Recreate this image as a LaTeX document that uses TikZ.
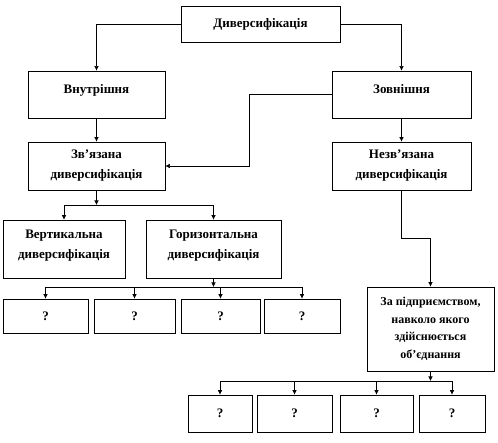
\documentclass[tikz,border=0pt]{standalone}
\usepackage{fontspec}
\setmainfont{Liberation Serif}
\usetikzlibrary{arrows.meta}

\begin{document}
\begin{tikzpicture}[x=1pt,y=-1pt,font=\bfseries\fontsize{13}{20}\selectfont,
  box/.style={draw,line width=0.6pt,align=center,inner sep=2pt},
  w/.style={-{Latex[length=1.6mm,width=1.6mm]},line width=0.6pt}]
  \useasboundingbox (0,0) rectangle (498,442);
  \node[box,minimum width=159pt,minimum height=36pt] (dyv) at (260.5,24) {Диверсифікація};
  \node[box,minimum width=137pt,minimum height=47pt] (vn) at (96.5,94.5) {Внутрішня\\[-8pt]};
  \node[box,minimum width=139pt,minimum height=47pt] (zo) at (401.5,94.5) {Зовнішня\\[-8pt]};
  \node[box,minimum width=137pt,minimum height=48pt] (zv) at (96.5,166) {Зв’язана\\диверсифікація};
  \node[box,minimum width=139pt,minimum height=48pt] (nzv) at (401.5,166) {Незв’язана\\диверсифікація};
  \node[box,minimum width=122pt,minimum height=58pt] (vert) at (64,249) {Вертикальна\\диверсифікація\\[-10pt]};
  \node[box,minimum width=135pt,minimum height=58pt] (hor) at (213.5,249) {Горизонтальна\\диверсифікація\\[-10pt]};
  \node[box,minimum width=85pt,minimum height=34pt] (q1) at (45.5,316) {?};
  \node[box,minimum width=81pt,minimum height=34pt] (q2) at (134.5,316) {?};
  \node[box,minimum width=79pt,minimum height=34pt] (q3) at (220.5,316) {?};
  \node[box,minimum width=76pt,minimum height=34pt] (q4) at (302,316) {?};
  \node[box,minimum width=127pt,minimum height=84pt,
        font=\bfseries\fontsize{12}{17.5}\selectfont] (fin) at (430.5,329)
       {За підприємством,\\навколо якого\\здійснюється\\об’єднання};
  \node[box,minimum width=64pt,minimum height=37pt] (r1) at (220,413.5) {?};
  \node[box,minimum width=75pt,minimum height=37pt] (r2) at (294.5,413.5) {?};
  \node[box,minimum width=73pt,minimum height=37pt] (r3) at (376.5,413.5) {?};
  \node[box,minimum width=66pt,minimum height=37pt] (r4) at (452,413.5) {?};
  \coordinate (k1) at (249,94.5);
  \coordinate (k2) at (401.5,238);
  \coordinate (j1) at (96.5,205);
  \coordinate (j2) at (213.5,287);
  \coordinate (j3) at (430.5,381);
  \draw[w] (dyv.west) -| (vn.north);
  \draw[w] (dyv.east) -| (zo.north);
  \draw[w] (vn) -- (zv);
  \draw[w] (zo) -- (nzv);
  \draw[w] (zo.west) -- (k1) |- (zv.east);
  \draw[w] (zv) -- (j1);
  \draw[w] (j1) -| (vert); \draw[w] (j1) -| (hor);
  \draw[w] (hor) -- (j2);
  \draw[w] (j2) -| (q1); \draw[w] (j2) -| (q2);
  \draw[w] (j2) -| (q3); \draw[w] (j2) -| (q4);
  \draw[w] (nzv) -- (k2) -| (fin);
  \draw[w] (fin) -- (j3);
  \draw[w] (j3) -| (r1); \draw[w] (j3) -| (r2);
  \draw[w] (j3) -| (r3); \draw[w] (j3) -| (r4);
\end{tikzpicture}
\end{document}
